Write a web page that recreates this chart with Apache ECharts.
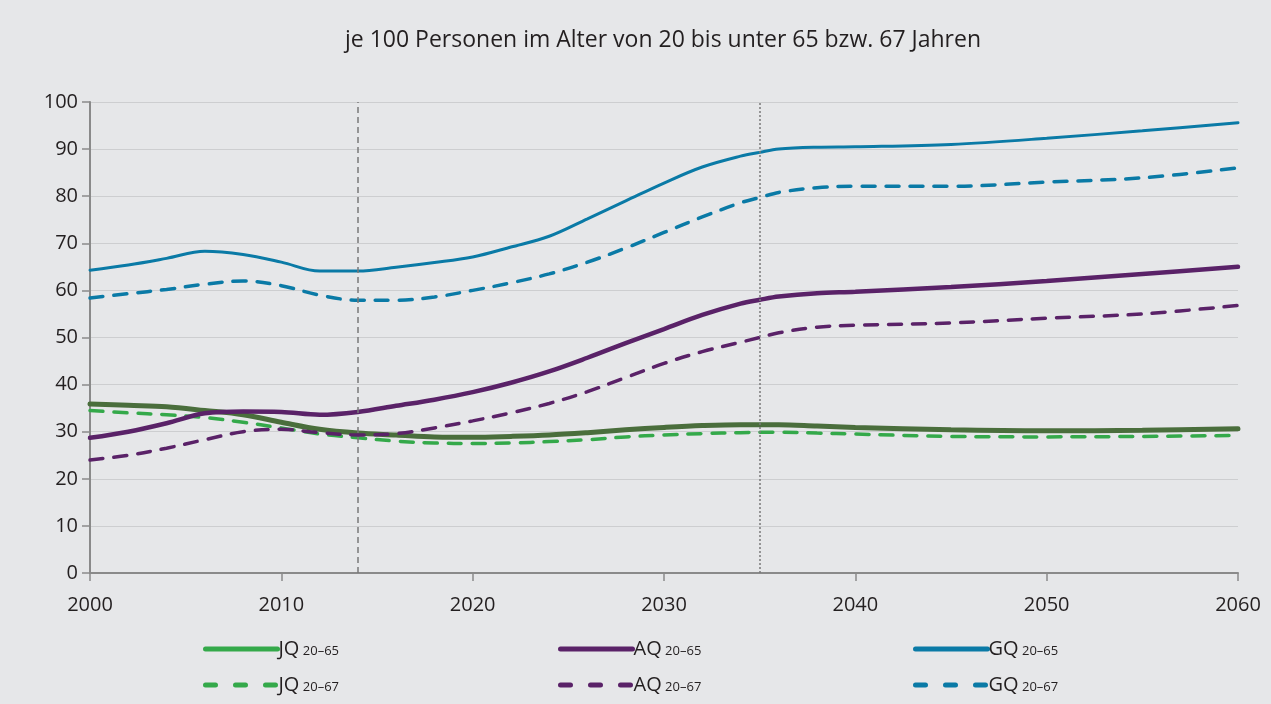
<!DOCTYPE html>
<html>
<head>
<meta charset="utf-8">
<script src="https://cdn.jsdelivr.net/npm/echarts@6/dist/echarts.min.js"></script>
<style>
	html, body { margin: 0; padding: 0; background: #e6e7e9; }
	#chart { width: 1271px; height: 704px; }
</style>
</head>
<body>
<div id="chart"></div>
<script>
var years = [2000, 2002, 2004, 2006, 2008, 2010, 2012, 2014, 2016, 2018, 2020, 2022, 2024, 2026, 2028, 2030, 2032, 2034, 2035, 2036, 2038, 2040, 2045, 2050, 2055, 2060];

var jq65 = [35.9, 35.6, 35.3, 34.5, 33.6, 32.0, 30.5, 29.7, 29.3, 28.9, 28.8, 29.0, 29.3, 29.8, 30.4, 30.9, 31.3, 31.5, 31.5, 31.5, 31.2, 30.9, 30.4, 30.2, 30.3, 30.6];
var jq67 = [34.5, 34.0, 33.6, 33.0, 32.0, 30.8, 29.5, 28.7, 28.0, 27.6, 27.5, 27.6, 27.9, 28.3, 28.9, 29.3, 29.6, 29.8, 29.9, 29.9, 29.7, 29.5, 29.0, 28.9, 29.0, 29.2];
var aq65 = [28.7, 30.0, 31.8, 33.9, 34.3, 34.2, 33.6, 34.2, 35.5, 36.8, 38.4, 40.4, 42.8, 45.7, 48.8, 51.8, 54.8, 57.2, 58.0, 58.7, 59.4, 59.7, 60.7, 62.0, 63.5, 65.0];
var aq67 = [24.0, 25.0, 26.5, 28.3, 30.0, 30.5, 29.8, 29.3, 29.6, 30.8, 32.3, 34.0, 36.0, 38.5, 41.5, 44.5, 47.0, 49.0, 50.0, 51.0, 52.2, 52.6, 53.1, 54.1, 55.0, 56.8];
var gq65 = [64.3, 65.4, 66.8, 68.3, 67.6, 66.0, 64.1, 64.1, 64.9, 65.9, 67.1, 69.2, 71.5, 75.2, 79.0, 82.8, 86.2, 88.5, 89.3, 90.0, 90.4, 90.5, 91.0, 92.3, 93.9, 95.6];
var gq67 = [58.4, 59.3, 60.2, 61.3, 62.0, 61.0, 59.0, 57.9, 57.9, 58.6, 60.0, 61.6, 63.5, 66.0, 69.0, 72.3, 75.6, 78.6, 79.7, 80.8, 81.8, 82.1, 82.1, 83.0, 83.9, 86.0];

var names = ['JQ 20–65', 'AQ 20–65', 'GQ 20–65', 'JQ 20–67', 'AQ 20–67', 'GQ 20–67'];
var markYears = [2014, 2035];

function pairs(vals) {
	return years.map(function(y, i) { return [y, vals[i]]; });
}

var chart = echarts.init(document.getElementById('chart'));

var txt = '#231f20';
var font = '"Open Sans", "Noto Sans", sans-serif';

function mkSeries(name, vals, color, width, dashed) {
	return {
		name: name,
		type: 'line',
		data: pairs(vals),
		smooth: 0.35,
		symbol: 'none',
		lineStyle: {
			color: color,
			width: width,
			type: dashed ? [13, 11] : 'solid',
			cap: 'round'
		},
		itemStyle: { color: color }
	};
}

var series = [
	mkSeries(names[3], jq67, '#34a94a', 3.5, true),
	mkSeries(names[0], jq65, '#4a6e3c', 5, false),
	mkSeries(names[4], aq67, '#5a2268', 3.5, true),
	mkSeries(names[1], aq65, '#5a2268', 4.5, false),
	mkSeries(names[5], gq67, '#0a7aa6', 3.5, true),
	mkSeries(names[2], gq65, '#0a7aa6', 3, false)
];

// vertical reference lines
series[0].markLine = {
	silent: true,
	symbol: 'none',
	label: { show: false },
	data: [
		{ xAxis: markYears[0], lineStyle: { color: '#7a7a7a', width: 1.5, type: [6, 4] } },
		{ xAxis: markYears[1], lineStyle: { color: '#7a7a7a', width: 1.5, type: [2, 2] } }
	]
};

var legendLeft = [198, 553, 908];
var legendTop = [634, 670];
var legends = [];
names.forEach(function(n, i) {
	var dashed = i >= 3;
	var item = {
		name: n,
		itemStyle: { opacity: 0 },
		lineStyle: { width: 5, type: dashed ? [10, 20] : 'solid', cap: 'round' }
	};
	if (i % 3 === 0) {
		item.lineStyle.color = '#34a94a';
	}
	legends.push({
		left: legendLeft[i % 3],
		top: legendTop[Math.floor(i / 3)],
		itemWidth: 72,
		itemHeight: 20,
		itemGap: 0,
		selectedMode: false,
		data: [item],
		formatter: function(name) {
			var p = name.split(' ');
			return '{a|' + p[0] + '}{b| ' + p[1] + '}';
		},
		textStyle: {
			padding: [0, 0, 0, -4],
			rich: {
				a: { fontSize: 20, color: txt, fontFamily: font },
				b: { fontSize: 13, color: txt, fontFamily: font, padding: [5, 0, 0, 0] }
			}
		}
	});
});

var option = {
	backgroundColor: '#e6e7e9',
	animation: false,
	title: {
		text: 'je 100 Personen im Alter von 20 bis unter 65 bzw. 67 Jahren',
		left: 340,
		top: 24,
		textStyle: { fontSize: 23, fontWeight: 'normal', color: txt, fontFamily: font }
	},
	legend: legends,
	grid: { left: 90, right: 33, top: 102, bottom: 131 },
	xAxis: {
		type: 'value',
		min: 2000,
		max: 2060,
		interval: 10,
		axisLine: { show: true, lineStyle: { color: '#8a8a8a', width: 2 } },
		axisTick: { show: true, length: 8, lineStyle: { color: '#8a8a8a', width: 1.5 } },
		splitLine: { show: false },
		axisLabel: {
			color: txt, fontSize: 20, fontFamily: font, margin: 22,
			formatter: function(v) { return String(v); }
		}
	},
	yAxis: {
		type: 'value',
		min: 0,
		max: 100,
		interval: 10,
		axisLine: { show: true, lineStyle: { color: '#8a8a8a', width: 2 } },
		axisTick: { show: true, length: 8, lineStyle: { color: '#8a8a8a', width: 1.5 } },
		splitLine: { show: true, lineStyle: { color: '#cdced0', width: 1 } },
		axisLabel: { color: txt, fontSize: 20, fontFamily: font, margin: 12 }
	},
	series: series
};

chart.setOption(option);
</script>
</body>
</html>
